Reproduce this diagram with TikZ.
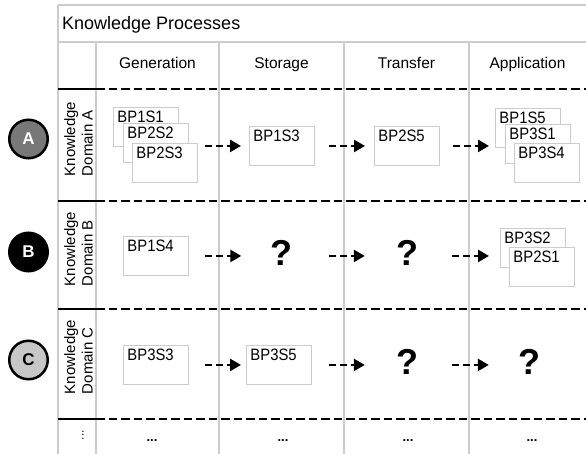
\documentclass[tikz,border=0pt]{standalone}
\usepackage{fontspec}
\setmainfont{Liberation Sans}
\newfontfamily\narrowfont[FakeStretch=0.9]{Liberation Sans}
\usetikzlibrary{arrows.meta}
\begin{document}
\begin{tikzpicture}[x=1pt,y=-1pt,
  grid/.style={draw=black!20, line width=1.2pt},
  rowdash/.style={draw=black, line width=2.8pt, dash pattern=on 8.5pt off 4pt},
  rowsolid/.style={draw=black, line width=2.8pt},
  bpbox/.style={draw=black!20, line width=0.9pt, fill=white, anchor=north west,
    minimum width=65pt, minimum height=39pt, text width=57pt, align=left,
    inner xsep=4pt, inner ysep=3pt, text height=12pt, text depth=21pt,
    font=\narrowfont\fontsize{16.5}{18}\selectfont},
  qmark/.style={font=\fontsize{36}{40}\selectfont\bfseries, inner sep=0pt, minimum width=64pt},
  flow/.style={draw=black, line width=2.5pt, dash pattern=on 7pt off 4pt,
    -{Triangle[length=11pt,width=12pt]}},
  circ/.style={circle, draw=black, line width=2.5pt, minimum size=38.5pt, inner sep=0pt,
    font=\fontsize{17}{19}\selectfont\bfseries},
  head/.style={font=\fontsize{15.5}{17}\selectfont, text height=11.5pt, text depth=3.5pt},
  domlabel/.style={rotate=90, align=left, font=\fontsize{15}{17.5}\selectfont},
  more/.style={font=\fontsize{13}{15}\selectfont\bfseries}
]
\useasboundingbox (0,0) rectangle (586,454);

% grid
\draw[grid] (58,5) -- (586,5);
\draw[grid] (58,42) -- (586,42);
\draw[grid] (58,5) -- (58,454);
\draw[grid] (96,42) -- (96,454);
\draw[grid] (219,42) -- (219,454);
\draw[grid] (344,42) -- (344,454);
\draw[grid] (469,42) -- (469,454);

% row separators
\foreach \yy in {89,201,309,419} {
  \draw[rowsolid] (58,\yy) -- (96,\yy);
  \draw[rowdash] (96,\yy) -- (586,\yy);
}

% titles
\node[anchor=base west, font=\fontsize{18}{20}\selectfont, inner sep=0pt] (title) at (62,29.5) {Knowledge Processes};
\node[head] (hgen) at (157.5,65) {Generation};
\node[head] (hsto) at (281.5,65) {Storage};
\node[head] (htra) at (406.5,65) {Transfer};
\node[head] (happ) at (527.5,65) {Application};

% domain circles
\node[circ, fill=black!53, text=white] (cA) at (28.5,139) {A};
\node[circ, fill=black, text=white] (cB) at (28.5,252) {B};
\node[circ, fill=black!22, text=black] (cC) at (28.5,360) {C};

% domain labels
\node[domlabel] (lA) at (78.5,139) {Knowledge\\Domain A};
\node[domlabel] (lB) at (78.5,249) {Knowledge\\Domain B};
\node[domlabel] (lC) at (78.5,357) {Knowledge\\Domain C};

% row A
\node[bpbox] (a11) at (113,107) {BP1S1};
\node[bpbox] (a12) at (123,123) {BP2S2};
\node[bpbox] (a13) at (132,143) {BP2S3};
\node[bpbox] (a2) at (249,126) {BP1S3};
\node[bpbox] (a3) at (374,126) {BP2S5};
\node[bpbox] (a41) at (495,108) {BP1S5};
\node[bpbox] (a42) at (505,124) {BP3S1};
\node[bpbox] (a43) at (514,143) {BP3S4};
\draw[flow, shorten <=7pt, shorten >=8pt] (a13.east |- a2.west) -- (a2.west);
\draw[flow, shorten <=14pt, shorten >=9pt] (a2.east) -- (a3.west);
\draw[flow, shorten <=13pt, shorten >=6pt] (a3.east) -- (a3.east -| a41.west);

% row B
\node[bpbox] (b1) at (123,236) {BP1S4};
\node[qmark] (b2) at (281.5,253) {?};
\node[qmark] (b3) at (407,253) {?};
\node[bpbox] (b41) at (500,228) {BP3S2};
\node[bpbox] (b42) at (509,247) {BP2S1};
\draw[flow, shorten <=16pt, shorten >=8pt] (b1.east) -- (b1.east -| b2.west);
\draw[flow, shorten <=15pt, shorten >=10pt] (b2.east |- b1.east) -- (b1.east -| b3.west);
\draw[flow, shorten <=13pt, shorten >=11pt] (b3.east |- b1.east) -- (b1.east -| b41.west);

% row C
\node[bpbox] (c1) at (123,345) {BP3S3};
\node[bpbox] (c2) at (246,345) {BP3S5};
\node[qmark] (c3) at (407,362) {?};
\node[qmark] (c4) at (529,362) {?};
\draw[flow, shorten <=16pt, shorten >=5pt] (c1.east) -- (c2.west);
\draw[flow, shorten <=17pt, shorten >=10pt] (c2.east) -- (c2.east -| c3.west);
\draw[flow, shorten <=13pt, shorten >=8pt] (c3.east |- c2.east) -- (c2.east -| c4.west);

% more row
\node[rotate=90, font=\fontsize{12}{14}\selectfont] (dv) at (83,435) {...};
\node[more] (m1) at (152,441) {...};
\node[more] (m2) at (283,441) {...};
\node[more] (m3) at (408,441) {...};
\node[more] (m4) at (532,441) {...};
\end{tikzpicture}
\end{document}
